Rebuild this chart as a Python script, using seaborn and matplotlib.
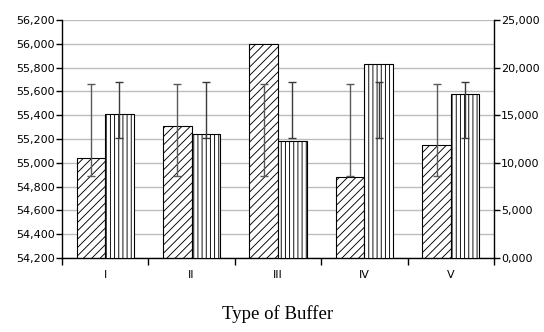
import numpy as np
import pandas as pd
import matplotlib
matplotlib.use("Agg")
import matplotlib.pyplot as plt
import seaborn as sns

# ---- data ----
categories = ["I", "II", "III", "IV", "V"]
series_a = [55040, 55310, 56000, 54880, 55150]          # left axis (hatched /)
series_b = [15130, 12990, 12250, 20350, 17230]          # right axis (hatched |)
err_a_low = [54885, 54885, 54885, 54885, 54885]
err_a_high = [55665, 55665, 55665, 55665, 55665]
err_b_low = [12640, 12640, 12640, 12640, 12640]
err_b_high = [18520, 18520, 18520, 18520, 18520]
left_ticks = [54200, 54400, 54600, 54800, 55000, 55200, 55400, 55600, 55800, 56000, 56200]
left_labels = ["54,200", "54,400", "54,600", "54,800", "55,000", "55,200",
               "55,400", "55,600", "55,800", "56,000", "56,200"]
right_ticks = [0, 5000, 10000, 15000, 20000, 25000]
right_labels = ["0,000", "5,000", "10,000", "15,000", "20,000", "25,000"]
xlabel = "Type of Buffer"

sns.set_theme(style="white")
plt.rcParams["font.family"] = ["DejaVu Sans"]
plt.rcParams["hatch.linewidth"] = 0.65

fig = plt.figure(figsize=(5.44, 3.32), dpi=100)
ax = fig.add_axes([62 / 544, 1 - 258 / 332, (494 - 62) / 544, (258 - 20) / 332])
ax2 = ax.twinx()

df_a = pd.DataFrame({"cat": categories, "val": series_a, "series": "A"})
df_b = pd.DataFrame({"cat": categories, "val": series_b, "series": "B"})

sns.barplot(data=df_a, x="cat", y="val", hue="series", hue_order=["A", "B"],
            order=categories, width=0.66, dodge=True, ax=ax, legend=False,
            palette={"A": "white", "B": "white"}, edgecolor="black",
            linewidth=0.8, hatch="////", zorder=2)
sns.barplot(data=df_b, x="cat", y="val", hue="series", hue_order=["A", "B"],
            order=categories, width=0.66, dodge=True, ax=ax2, legend=False,
            palette={"A": "white", "B": "white"}, edgecolor="black",
            linewidth=0.8, hatch="||||", zorder=2)

ax.set_ylim(54200, 56200)
ax2.set_ylim(0, 25000)
ax.set_xlim(-0.5, len(categories) - 0.5)

# error bars centred on bars
xa = [p.get_x() + p.get_width() / 2 for p in ax.patches if p.get_height() > 0][:len(categories)]
xb = [p.get_x() + p.get_width() / 2 for p in ax2.patches if p.get_height() > 0][:len(categories)]
lo_a, hi_a = np.array(err_a_low), np.array(err_a_high)
lo_b, hi_b = np.array(err_b_low), np.array(err_b_high)
ax.errorbar(xa, (lo_a + hi_a) / 2, yerr=(hi_a - lo_a) / 2, fmt="none",
            ecolor="#5a5a5a", elinewidth=1.0, capsize=2.8, capthick=1.0, zorder=5)
ax2.errorbar(xb, (lo_b + hi_b) / 2, yerr=(hi_b - lo_b) / 2, fmt="none",
             ecolor="#3a3a3a", elinewidth=1.0, capsize=2.8, capthick=1.0, zorder=5)

# gridlines
ax.set_yticks(left_ticks)
ax.set_yticklabels(left_labels)
ax.yaxis.grid(True, color="#bdbdbd", linewidth=1.0)
ax.set_axisbelow(True)
ax2.set_yticks(right_ticks)
ax2.set_yticklabels(right_labels)
ax2.grid(False)

# x ticks
ax.set_xticks(range(len(categories)))
ax.set_xticklabels(categories)
ax.set_xticks(np.arange(-0.5, len(categories), 1), minor=True)
ax.tick_params(axis="x", which="major", length=0, labelsize=8, pad=9, labelcolor="black")
ax.tick_params(axis="x", which="minor", length=5, width=1, color="black", direction="out", bottom=True)
ax.tick_params(axis="y", length=4, width=1, color="black", direction="out", labelsize=8, pad=1,
               left=True, labelcolor="black")
ax2.tick_params(axis="y", length=4, width=1, color="black", direction="out", labelsize=8, pad=1,
                right=True, labelcolor="black")

ax.set_xlabel(xlabel, family=["Liberation Serif"], fontsize=13.5, labelpad=18, color="black")
ax.set_ylabel("")
ax2.set_ylabel("")

for a in (ax, ax2):
    a.spines["top"].set_visible(False)
    for s in a.spines.values():
        s.set_color("black")
        s.set_linewidth(1.0)
ax.spines["right"].set_visible(False)
ax2.spines["left"].set_visible(False)
ax2.spines["bottom"].set_visible(False)

fig.savefig("out.png", dpi=100)
